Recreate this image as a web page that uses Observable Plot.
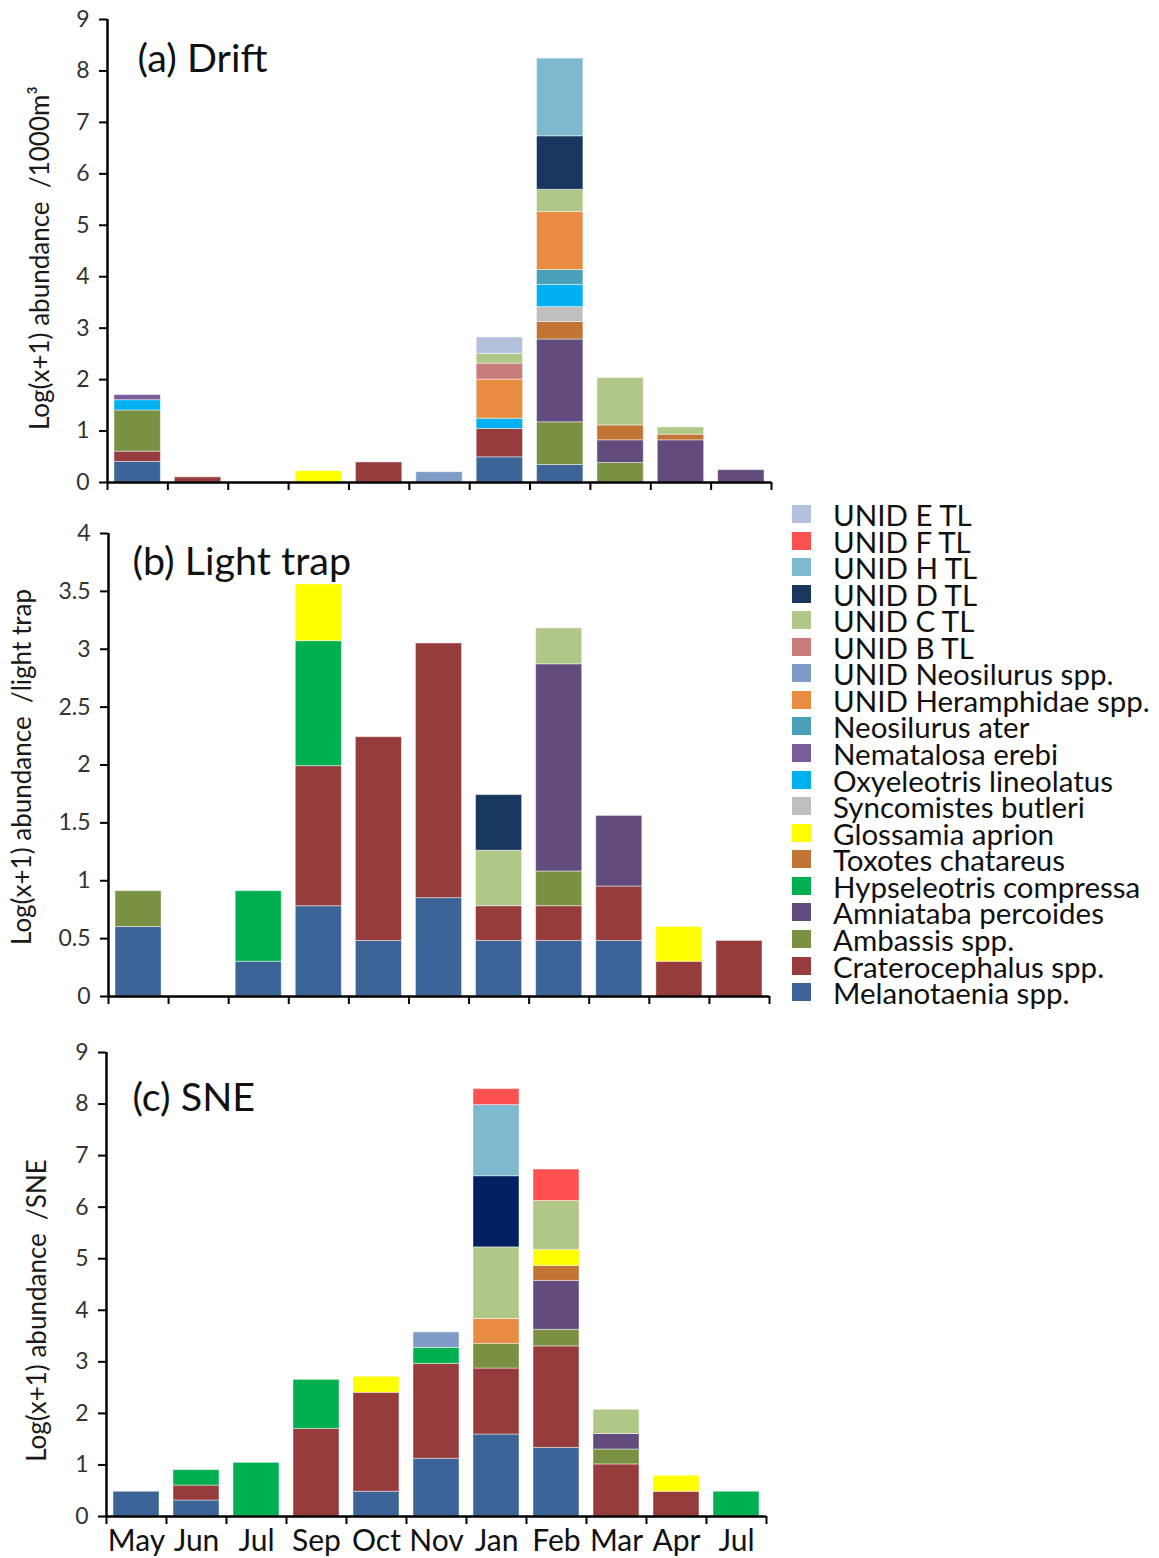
<!DOCTYPE html>
<html><head><meta charset="utf-8">
<script src="https://cdn.jsdelivr.net/npm/d3@7"></script>
<script src="https://cdn.jsdelivr.net/npm/@observablehq/plot@0.6"></script>
<style>
body{margin:0;background:#fff;}
#wrap{position:relative;width:1159px;height:1558px;font-family:Lato,sans-serif;overflow:hidden}
#wrap svg{position:absolute;left:0;overflow:visible}
.sw{position:absolute;width:19px;height:18px}
.lt{position:absolute;font-size:29.5px;line-height:26px;color:#111;white-space:nowrap}
</style></head><body><div id="wrap"></div>
<script>
const months = ["May","Jun","Jul","Sep","Oct","Nov","Jan","Feb","Mar","Apr","Jul"];
const species = ["UNID E TL","UNID F TL","UNID H TL","UNID D TL","UNID C TL","UNID B TL","UNID Neosilurus spp.","UNID Heramphidae spp.","Neosilurus ater","Nematalosa erebi","Oxyeleotris lineolatus","Syncomistes butleri","Glossamia aprion","Toxotes chatareus","Hypseleotris compressa","Amniataba percoides","Ambassis spp.","Craterocephalus spp.","Melanotaenia spp."];
const colors = ["#B3C1DD","#FF5050","#7EB9CF","#17375E","#B0C787","#C97D7B","#7F9BC8","#E88C41","#4AA0B8","#7A5C9A","#00B0F0","#BFBFBF","#FFFF00","#C27434","#00B050","#624C7D","#7A9143","#963C3C","#3C6496"];
const sneUnidDColor = "#002060";

// [month index, species, log(x+1) segment value]
const drift = [
  [0,"Melanotaenia spp.",0.4],[0,"Craterocephalus spp.",0.2],[0,"Ambassis spp.",0.8],[0,"Oxyeleotris lineolatus",0.2],[0,"Nematalosa erebi",0.1],
  [1,"Craterocephalus spp.",0.1],
  [3,"Glossamia aprion",0.22],
  [4,"Craterocephalus spp.",0.39],
  [5,"UNID Neosilurus spp.",0.2],
  [6,"Melanotaenia spp.",0.49],[6,"Craterocephalus spp.",0.55],[6,"Oxyeleotris lineolatus",0.2],[6,"UNID Heramphidae spp.",0.76],[6,"UNID B TL",0.31],[6,"UNID C TL",0.19],[6,"UNID E TL",0.32],
  [7,"Melanotaenia spp.",0.34],[7,"Ambassis spp.",0.83],[7,"Amniataba percoides",1.61],[7,"Toxotes chatareus",0.34],[7,"Syncomistes butleri",0.29],[7,"Oxyeleotris lineolatus",0.43],[7,"Neosilurus ater",0.29],[7,"UNID Heramphidae spp.",1.13],[7,"UNID C TL",0.43],[7,"UNID D TL",1.04],[7,"UNID H TL",1.51],
  [8,"Ambassis spp.",0.38],[8,"Amniataba percoides",0.44],[8,"Toxotes chatareus",0.29],[8,"UNID C TL",0.92],
  [9,"Amniataba percoides",0.82],[9,"Toxotes chatareus",0.11],[9,"UNID C TL",0.14],
  [10,"Amniataba percoides",0.24]
];
const lightTrap = [
  [0,"Melanotaenia spp.",0.6],[0,"Ambassis spp.",0.31],
  [2,"Melanotaenia spp.",0.3],[2,"Hypseleotris compressa",0.61],
  [3,"Melanotaenia spp.",0.78],[3,"Craterocephalus spp.",1.21],[3,"Hypseleotris compressa",1.08],[3,"Glossamia aprion",0.49],
  [4,"Melanotaenia spp.",0.48],[4,"Craterocephalus spp.",1.76],
  [5,"Melanotaenia spp.",0.85],[5,"Craterocephalus spp.",2.2],
  [6,"Melanotaenia spp.",0.48],[6,"Craterocephalus spp.",0.3],[6,"UNID C TL",0.48],[6,"UNID D TL",0.48],
  [7,"Melanotaenia spp.",0.48],[7,"Craterocephalus spp.",0.3],[7,"Ambassis spp.",0.3],[7,"Amniataba percoides",1.79],[7,"UNID C TL",0.31],
  [8,"Melanotaenia spp.",0.48],[8,"Craterocephalus spp.",0.47],[8,"Amniataba percoides",0.61],
  [9,"Craterocephalus spp.",0.3],[9,"Glossamia aprion",0.3],
  [10,"Craterocephalus spp.",0.48]
];
const sne = [
  [0,"Melanotaenia spp.",0.48],
  [1,"Melanotaenia spp.",0.31],[1,"Craterocephalus spp.",0.29],[1,"Hypseleotris compressa",0.3],
  [2,"Hypseleotris compressa",1.04],
  [3,"Craterocephalus spp.",1.7],[3,"Hypseleotris compressa",0.95],
  [4,"Melanotaenia spp.",0.48],[4,"Craterocephalus spp.",1.92],[4,"Glossamia aprion",0.31],
  [5,"Melanotaenia spp.",1.12],[5,"Craterocephalus spp.",1.84],[5,"Hypseleotris compressa",0.31],[5,"UNID Neosilurus spp.",0.3],
  [6,"Melanotaenia spp.",1.59],[6,"Craterocephalus spp.",1.28],[6,"Ambassis spp.",0.48],[6,"UNID Heramphidae spp.",0.48],[6,"UNID C TL",1.39],[6,"UNID D TL",1.38],[6,"UNID H TL",1.38],[6,"UNID F TL",0.31],
  [7,"Melanotaenia spp.",1.33],[7,"Craterocephalus spp.",1.97],[7,"Ambassis spp.",0.32],[7,"Amniataba percoides",0.95],[7,"Toxotes chatareus",0.29],[7,"Glossamia aprion",0.31],[7,"UNID C TL",0.95],[7,"UNID F TL",0.61],
  [8,"Craterocephalus spp.",1.01],[8,"Ambassis spp.",0.29],[8,"Amniataba percoides",0.3],[8,"UNID C TL",0.47],
  [9,"Craterocephalus spp.",0.48],[9,"Glossamia aprion",0.31],
  [10,"Hypseleotris compressa",0.48]
];
const driftTicks = d3.range(0, 10);
const lightTicks = d3.range(0, 4.01, 0.5);
const sneTicks = d3.range(0, 10);

const colorOf = new Map(species.map((s, i) => [s, colors[i]]));
const stackOrder = species.slice().reverse();
const wrap = document.getElementById("wrap");

function panel(o) {
  const data = o.rows.map(([m, sp, v]) => ({m, sp, v}));
  const fillOf = d => (o.dColor && d.sp === "UNID D TL") ? o.dColor : colorOf.get(d.sp);
  const marks = [
    Plot.rectY(data, {x: "m", interval: 1, y: "v", z: "sp", order: stackOrder, fill: fillOf,
      stroke: "#fff", strokeOpacity: 0.45, strokeWidth: 1, insetLeft: 7, insetRight: 7}),
    Plot.axisY({ticks: o.ticks, tickFormat: d => String(d), tickSize: 8, tickPadding: 10, label: null,
      fontSize: 23, stroke: "#000", strokeWidth: 2, fill: "#333"}),
    Plot.axisX({ticks: d3.range(12), tickFormat: () => "", tickSize: 8, strokeWidth: 2, stroke: "#000", label: null}),
    Plot.ruleX([0], {stroke: "#000", strokeWidth: 2.5}),
    Plot.ruleY([0], {stroke: "#000", strokeWidth: 2.5}),
    Plot.text([o.ylabel], {text: d => d, frameAnchor: "left", rotate: -90, textAnchor: "middle", lineAnchor: "middle",
      dx: o.labelDx, dy: o.labelDy, fontSize: 26, fill: "#1a1a1a"}),
    Plot.text([o.title], {text: d => d, frameAnchor: "top-left", textAnchor: "start", lineAnchor: "top",
      dx: o.titleDx, dy: o.titleDy, fontSize: 39.5, fill: "#111"})
  ];
  if (o.showMonths) {
    marks.push(Plot.axisX({ticks: d3.range(11).map(i => i + 0.5), tickFormat: t => months[Math.floor(t)],
      tickSize: 0, tickPadding: 13, fontSize: 30, fill: "#111", label: null}));
  }
  const svg = Plot.plot({
    width: 790, height: o.height,
    marginTop: o.mt, marginBottom: o.mb, marginLeft: o.ml, marginRight: o.mr,
    style: {fontFamily: "Lato, sans-serif", background: "transparent"},
    x: {domain: [0, 11], axis: null},
    y: {domain: [0, o.yMax], axis: null},
    color: {type: "identity"},
    marks
  });
  svg.style.top = o.top + "px";
  wrap.appendChild(svg);
}

panel({rows: drift, ticks: driftTicks, yMax: 9, title: "(a) Drift",
  ylabel: "Log(x+1) abundance\u00a0\u00a0/1000m\u00b3", top: 0, height: 500, mt: 19, mb: 18, ml: 107, mr: 19,
  titleDx: 30, titleDy: 24, labelDx: -67, labelDy: 7});
panel({rows: lightTrap, ticks: lightTicks, yMax: 4, title: "(b) Light trap",
  ylabel: "Log(x+1) abundance\u00a0\u00a0/light trap", top: 500, height: 520, mt: 33, mb: 24, ml: 108, mr: 21,
  titleDx: 24, titleDy: 13, labelDx: -86, labelDy: 2});
panel({rows: sne, ticks: sneTicks, yMax: 9, title: "(c) SNE", dColor: sneUnidDColor,
  ylabel: "Log(x+1) abundance\u00a0\u00a0/SNE", top: 1020, height: 538, mt: 32, mb: 42, ml: 106, mr: 24,
  titleDx: 26, titleDy: 30, labelDx: -69, labelDy: 26, showMonths: true});

// legend
species.forEach((s, i) => {
  const top = 505 + i * 26.56;
  const sw = document.createElement("div");
  sw.className = "sw"; sw.style.left = "792px"; sw.style.top = top + "px"; sw.style.background = colors[i];
  wrap.appendChild(sw);
  const t = document.createElement("div");
  t.className = "lt"; t.style.left = "833px"; t.style.top = (top - 3) + "px"; t.textContent = s;
  wrap.appendChild(t);
});
</script></body></html>
